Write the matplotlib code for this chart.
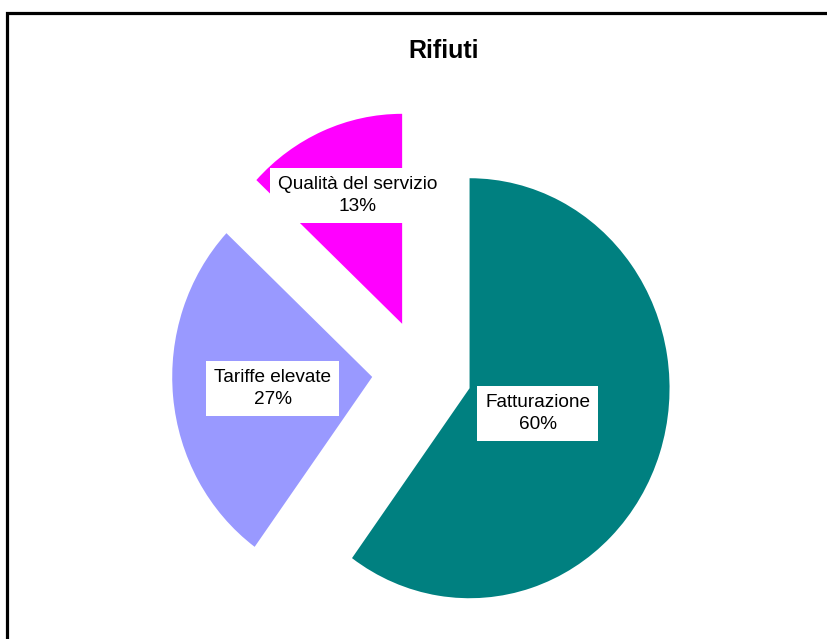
import numpy as np
import matplotlib
matplotlib.use('Agg')
import matplotlib.pyplot as plt
from matplotlib.patches import Rectangle

plt.rcParams['font.family'] = ['Liberation Sans', 'DejaVu Sans']

title = 'Rifiuti'
categories = ['Fatturazione', 'Tariffe elevate', 'Qualità del servizio']
values = [60, 27, 13]
colors = ['#008080', '#9999FF', '#FF00FF']

# label placement tweaks (distance from wedge tip, angle shift in degrees)
label_dist = [0.36, 0.50, 0.65]
label_shift = [-1.3, 1, -3.2]

fig = plt.figure(figsize=(8.28, 6.39), dpi=100)
ax = fig.add_axes([0, 0, 1, 1])

wedges, _ = ax.pie(values, colors=colors, startangle=90, counterclock=False,
                   explode=[0.25] * len(values), radius=1,
                   wedgeprops=dict(linewidth=0))
ax.set_aspect('auto')
# pie centre at (422, 372) px, radius ~200 px wide, 210 px tall
ax.set_xlim(-422 / 200, (828 - 422) / 200)
ax.set_ylim(-(639 - 372) / 210, 372 / 210)
ax.axis('off')

total = float(sum(values))
for w, cat, v, d, s in zip(wedges, categories, values, label_dist, label_shift):
    ang = np.deg2rad((w.theta1 + w.theta2) / 2 + s)
    cx, cy = w.center
    ax.text(cx + d * np.cos(ang), cy + d * np.sin(ang),
            '%s\n%d%%' % (cat, round(100 * v / total)),
            ha='center', va='center', fontsize=13.7, color='black',
            linespacing=1.4,
            bbox=dict(boxstyle='square,pad=0.42', facecolor='white',
                      edgecolor='none'))

fig.text(444 / 828, 1 - 51 / 639, title, ha='center', va='center',
         fontsize=18, fontweight='bold')

fig.patches.append(Rectangle((7 / 828, -0.05), 1.1, 1.05 - 12.5 / 639,
                             transform=fig.transFigure, fill=False,
                             edgecolor='black', linewidth=2.3))

fig.savefig('out.png', dpi=100)
